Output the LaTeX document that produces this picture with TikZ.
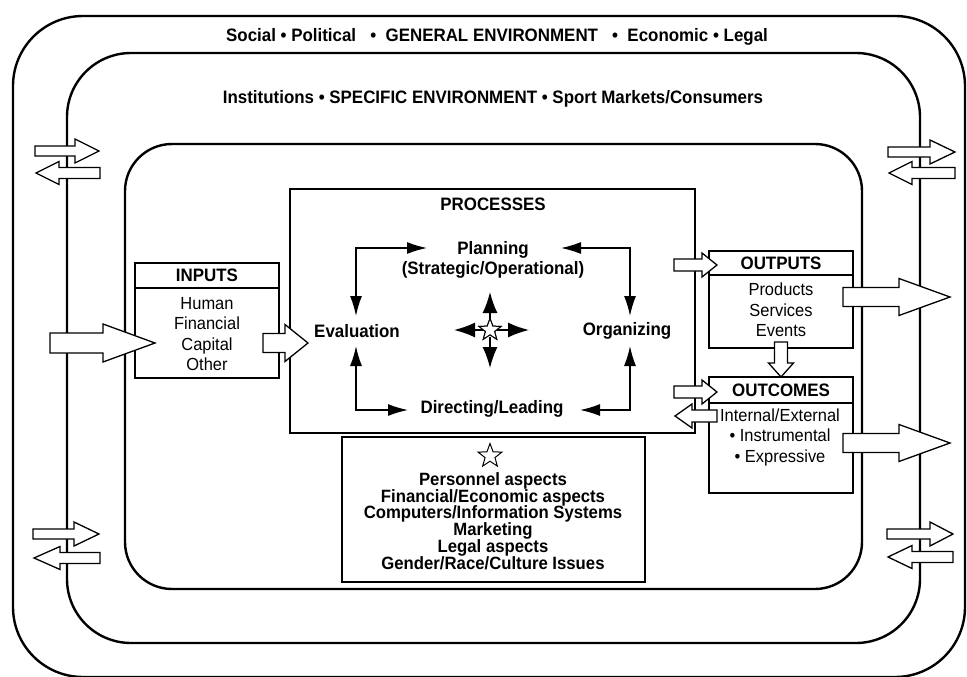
\documentclass[tikz,border=0pt]{standalone}
\usepackage{fontspec}
\setmainfont{Liberation Sans}[FakeStretch=0.94]
\usetikzlibrary{arrows.meta,shapes.geometric}
\newcommand\blkarrow[6]{\draw[barrow] (#1,{#4-#5}) -- (#2,{#4-#5}) -- (#2,{#4-#6}) -- (#3,#4) -- (#2,{#4+#6}) -- (#2,{#4+#5}) -- (#1,{#4+#5}) -- cycle;}
\begin{document}
\begin{tikzpicture}[x=1pt,y=-1pt,
  env/.style={line width=2.4pt},
  box/.style={draw,line width=1.4pt},
  lbl/.style={font=\fontsize{18}{20.5}\selectfont\bfseries,inner sep=0pt,align=center},
  txt/.style={font=\fontsize{17.5}{20.5}\selectfont,inner sep=0pt,align=center},
  sbl/.style={font=\fontsize{17.8}{16.7}\selectfont\bfseries,inner sep=0pt,align=center},
  cyc/.style={line width=1.4pt,{Latex[length=20pt,width=12pt]}-{Latex[length=20pt,width=12pt]}},
  ca/.style={line width=1.6pt,-{Latex[length=21pt,width=15pt]}},
  barrow/.style={draw,fill=white,line width=1.3pt,line join=miter},
  starshape/.style={star,star points=5,star point ratio=2.4,draw,line width=1pt,inner sep=0pt,outer sep=0pt,fill=white}
]
\useasboundingbox (0,0) rectangle (967,677);
\fill[white] (0,0) rectangle (967,677);
% environments
\draw[env,rounded corners=70pt] (13,16) rectangle (965,677);
\draw[env,rounded corners=64pt] (67,53) rectangle (920,643);
\draw[env,rounded corners=47pt] (125,144) rectangle (862,589);
\node[lbl] (gen) at (497,37) {Social \textbullet{} Political \ \ \textbullet\ \ GENERAL ENVIRONMENT \ \ \textbullet\ \ Economic \textbullet{} Legal};
\node[lbl] (spec) at (493,99) {Institutions \textbullet{} SPECIFIC ENVIRONMENT \textbullet{} Sport Markets/Consumers};
% processes
\draw[box] (290,189) rectangle (695,433);
\node[lbl] (proc) at (493,204) {PROCESSES};
\node[lbl] (plan) at (493,250) {Planning};
\node[lbl] (strat) at (493,270) {(Strategic/Operational)};
\node[lbl] (eval) at (357,331) {Evaluation};
\node[lbl] (org) at (627,331) {Organizing};
\node[lbl] (dir) at (492,409) {Directing/Leading};
\coordinate (evT) at (356,316);
\coordinate (evB) at (356,346);
\coordinate (plL) at (427,248);
\coordinate (plR) at (561,248);
\coordinate (orT) at (630,316);
\coordinate (orB) at (630,346);
\coordinate (diL) at (408,410);
\coordinate (diR) at (580,410);
\draw[cyc] (evT) |- (plL);
\draw[cyc] (plR) -| (orT);
\draw[cyc] (evB) |- (diL);
\draw[cyc] (diR) -| (orB);
\coordinate (cu) at (490,292);
\coordinate (cd) at (490,368);
\coordinate (cl) at (454,330);
\coordinate (cr) at (529,330);
\node[starshape,minimum size=23pt] (cstar) at (490,330) {};
\draw[ca] (cstar.center) ++(0,-7) -- (cu);
\draw[ca] (cstar.center) ++(0,7) -- (cd);
\draw[ca] (cstar.center) ++(-7,0) -- (cl);
\draw[ca] (cstar.center) ++(7,0) -- (cr);
\node[starshape,minimum size=23pt] at (cstar) {};
% inputs
\draw[box] (135,263) rectangle (279,378);
\draw[box] (135,288) -- (279,288);
\node[lbl] (inputs) at (207,275.5) {INPUTS};
\node[txt] (inl) at (207,334) {Human\\Financial\\Capital\\Other};
% outputs
\draw[box] (709,251) rectangle (853,348);
\draw[box] (709,275) -- (853,275);
\node[lbl] (outputs) at (781,263) {OUTPUTS};
\node[txt] (outl) at (781,310) {Products\\Services\\Events};
% outcomes
\draw[box] (709,377) rectangle (853,493);
\draw[box] (709,403) -- (853,403);
\node[lbl] (outcomes) at (781,390) {OUTCOMES};
\node[txt] (outcl) at (780,437) {Internal/External\\\textbullet{} Instrumental\\\textbullet{} Expressive};
% aspects box
\draw[box] (342,437) rectangle (645,582);
\node[starshape,minimum size=25pt] (bstar) at (490,456) {};
\node[sbl] (asp) at (493,521) {Personnel aspects\\Financial/Economic aspects\\Computers/Information Systems\\Marketing\\Legal aspects\\Gender/Race/Culture Issues};
% block arrows
\blkarrow{35}{75}{99}{151}{5}{12}
\blkarrow{100}{59}{36}{173}{5.5}{11.5}
\blkarrow{33}{74}{99}{534}{5}{12}
\blkarrow{100}{60}{34}{558}{5.5}{11.5}
\blkarrow{888}{930}{955}{152}{5}{12}
\blkarrow{955}{912}{889}{173}{5.5}{11.5}
\blkarrow{887}{930}{953}{534}{5}{12}
\blkarrow{953}{912}{888}{557}{5.5}{11.5}
\blkarrow{50}{103}{155}{343}{10}{19}
\blkarrow{263}{285}{308}{343}{9.5}{18.5}
\blkarrow{674}{702}{717}{265}{6}{12}
\blkarrow{843}{899}{950}{297}{9.5}{18.5}
\blkarrow{674}{702}{717}{392}{6}{12}
\blkarrow{717}{692}{675}{416}{6}{12}
\blkarrow{843}{899}{950}{443}{9.5}{18.5}
\draw[barrow] (774.5,342) -- (787.5,342) -- (787.5,363) -- (793.5,363) -- (781,377) -- (768.5,363) -- (774.5,363) -- cycle;
\end{tikzpicture}
\end{document}
